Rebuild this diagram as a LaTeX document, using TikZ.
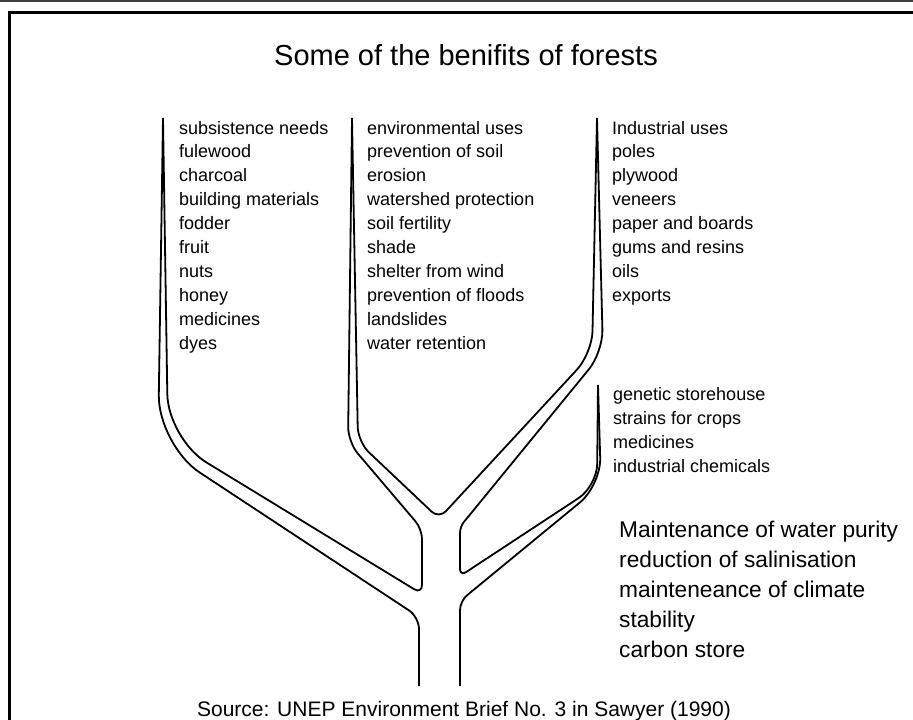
\documentclass[tikz,border=0pt]{standalone}
\usepackage{fontspec}
\setmainfont{Liberation Sans}
\begin{document}
\begin{tikzpicture}[x=1pt,y=-1pt,
  branch/.style={line width=1.8pt, line join=round},
  lst/.style={anchor=base west, inner sep=0pt, font=\fontsize{18}{24}\selectfont},
  big/.style={anchor=base west, inner sep=0pt, font=\fontsize{22.7}{30}\selectfont},
]
\useasboundingbox (0,0) rectangle (913,720);
\fill[white] (0,0) rectangle (913,720);
% frame
\draw[black!75, line width=1.5pt] (0,0.75) -- (913,0.75);
\draw[line width=3pt] (9.5,721) -- (9.5,12.5) -- (914,12.5);

% title
\node[anchor=base, inner sep=0pt, font=\fontsize{29}{34}\selectfont] (title) at (466,65) {Some of the benifits of forests};

% lists
\foreach \t [count=\i] in {subsistence needs, fulewood, charcoal, building materials, fodder, fruit, nuts, honey, medicines, dyes}
  \node[lst] (L\i) at (179,{134+23.9*(\i-1)}) {\t};
\foreach \t [count=\i] in {environmental uses, prevention of soil, erosion, watershed protection, soil fertility, shade, shelter from wind, prevention of floods, landslides, water retention}
  \node[lst] (M\i) at (367,{134+23.9*(\i-1)}) {\t};
\foreach \t [count=\i] in {Industrial uses, poles, plywood, veneers, paper and boards, gums and resins, oils, exports}
  \node[lst] (R\i) at (612,{134+23.9*(\i-1)}) {\t};
\foreach \t [count=\i] in {genetic storehouse, strains for crops, medicines, industrial chemicals}
  \node[lst] (G\i) at (613,{400+24*(\i-1)}) {\t};
\foreach \t [count=\i] in {Maintenance of water purity, reduction of salinisation, mainteneance of climate, stability, carbon store}
  \node[big] (B\i) at (619,{537+30.2*(\i-1)}) {\t};

% source
\node[anchor=base, inner sep=0pt, font=\fontsize{21}{25}\selectfont] (src) at (464,716) {Source: UNEP Environment Brief No. 3 in Sawyer (1990)};

% tree outlines
% path 1: outer left edge + trunk left
\draw[branch] (163,118) -- (158.8,395)
  .. controls (158.4,422.5) and (176.8,457.4) .. (199.7,472.5)
  -- (409,610.4)
  .. controls (414.5,614) and (419,622.4) .. (419,629)
  -- (419,686);
% path 2: inner left + middle left
\draw[branch] (163,118) -- (167.3,394)
  .. controls (167.7,418.8) and (185.3,449.5) .. (206.4,462.4)
  -- (414.3,589.3)
  .. controls (418.5,591.9) and (422,590) .. (422,585)
  -- (422,539)
  .. controls (422,533.5) and (419.1,525.6) .. (415.5,521.4)
  -- (357.7,453.4)
  .. controls (352.4,447.1) and (348.1,435.3) .. (348.2,427)
  -- (352,118);
% path 3: middle right + upper right left
\draw[branch] (352,118) -- (357.7,427)
  .. controls (357.9,435.3) and (362.9,446.6) .. (368.9,452.3)
  -- (431.7,511.7)
  .. controls (435.7,515.5) and (442.1,515.3) .. (445.8,511.3)
  -- (577,369.6)
  .. controls (585.2,360.7) and (592.2,343.6) .. (592.5,331.5)
  -- (597,118);
% path 4: upper right right + lower right left
\draw[branch] (597,118) -- (602.4,330)
  .. controls (602.7,342.1) and (596.7,359.7) .. (589.1,369)
  -- (463.8,522.1)
  .. controls (461.7,524.6) and (460,529.4) .. (460,532.7)
  -- (460,569)
  .. controls (460,572.85) and (462.7,574.3) .. (465.9,572.2)
  -- (578.6,498.1)
  .. controls (588.7,491.5) and (597.1,476.1) .. (597.2,464)
  -- (598,385);
% path 5: lower right right + trunk right
\draw[branch] (598,385) -- (600.2,458)
  .. controls (600.6,472.9) and (591.6,492.7) .. (580.2,502.2)
  -- (467,595.3)
  .. controls (463.2,598.4) and (460,605) .. (460,610)
  -- (460,686);
\end{tikzpicture}
\end{document}
